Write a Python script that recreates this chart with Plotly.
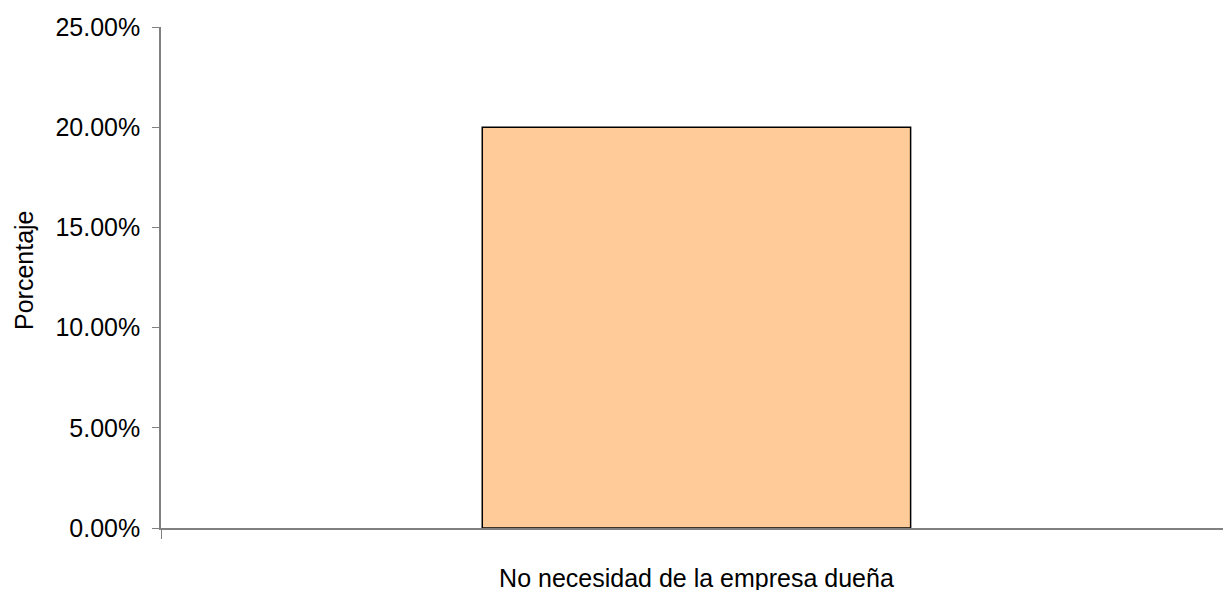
import plotly.graph_objects as go

categories = ["No necesidad de la empresa dueña"]
values = [0.20]
y_ticks = [0, 0.05, 0.10, 0.15, 0.20, 0.25]
y_title = "Porcentaje"

W, H = 1223, 590
ML, MR, MT, MB = 161, 0, 27, 62
font = "Liberation Sans, Arial, sans-serif"

fig = go.Figure(go.Bar(
    x=categories, y=values, width=0.4,
    marker=dict(color="#FFCC99", line=dict(color="#000000", width=1.5)),
))

fig.update_layout(
    width=W, height=H,
    margin=dict(l=ML, r=MR, t=MT, b=MB, autoexpand=False),
    plot_bgcolor="white", paper_bgcolor="white",
    font=dict(family=font, size=25, color="#000000"),
    showlegend=False,
    xaxis=dict(
        type="category", range=[-0.5, 0.4917], automargin=False,
        showline=True, linecolor="#808080", linewidth=1.5,
        ticks="outside", tickson="boundaries", ticklen=9, tickcolor="#808080",
        tickfont=dict(size=25), ticklabelstandoff=27,
        showgrid=False, zeroline=False,
    ),
    yaxis=dict(
        range=[0, 0.25], tickvals=y_ticks, tickformat=".2%", automargin=False,
        showline=True, linecolor="#808080", linewidth=1.5,
        ticks="outside", ticklen=7, tickcolor="#808080",
        tickfont=dict(size=25), ticklabelstandoff=7,
        showgrid=False, zeroline=False,
    ),
    annotations=[dict(
        text=y_title, textangle=-90, xref="paper", yref="paper",
        x=-(ML - 24) / (W - ML - MR), y=1 - (270 - MT) / (H - MT - MB),
        xanchor="center", yanchor="middle",
        showarrow=False, font=dict(size=25),
    )],
)

fig.write_html(
    "out.html",
    config={"displayModeBar": False},
    post_script="document.body.style.margin='0';document.body.style.overflow='hidden';",
)
